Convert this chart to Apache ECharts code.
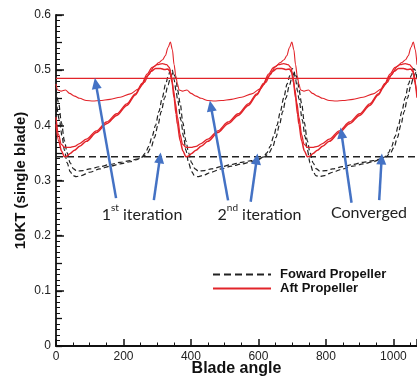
<!DOCTYPE html>
<html>
<head>
<meta charset="utf-8">
<script src="https://cdn.jsdelivr.net/npm/echarts@6/dist/echarts.min.js"></script>
<style>
html,body{margin:0;padding:0;background:#fff;}
#chart{width:417px;height:384px;}
</style>
</head>
<body>
<div id="chart"></div>
<script>
// ---- data ----
const xTicks = [0, 200, 400, 600, 800, 1000];
const yTicks = [0, 0.1, 0.2, 0.3, 0.4, 0.5, 0.6];
const seriesNames = ['Foward Propeller', 'Aft Propeller'];

// 1st iteration: constant thrust
const fwdFirstIter = [[0, 0.343], [1070, 0.343]];
const aftFirstIter = [[0, 0.485], [1070, 0.485]];

// 2nd iteration, aft propeller
const aftSecondIter = [[0,0.475],[5,0.464],[15,0.462],[28,0.464],[40,0.458],[55,0.453],[70,0.449],[90,0.445],[110,0.444],[130,0.445],[160,0.447],[190,0.451],[220,0.457],[245,0.466],[262,0.478],[275,0.492],[290,0.506],[305,0.514],[316,0.519],[324,0.526],[332,0.541],[339,0.551],[345,0.537],[350,0.51],[355,0.49],
[360,0.475],[365,0.464],[375,0.462],[388,0.464],[400,0.458],[415,0.453],[430,0.449],[450,0.445],[470,0.444],[490,0.445],[520,0.447],[550,0.451],[580,0.457],[605,0.466],[622,0.478],[635,0.492],[650,0.506],[665,0.514],[676,0.519],[684,0.526],[692,0.541],[699,0.551],[705,0.537],[710,0.51],[715,0.49],
[720,0.475],[725,0.464],[735,0.462],[748,0.464],[760,0.458],[775,0.453],[790,0.449],[810,0.445],[830,0.444],[850,0.445],[880,0.447],[910,0.451],[940,0.457],[965,0.466],[982,0.478],[995,0.492],[1010,0.506],[1025,0.514],[1036,0.519],[1044,0.526],[1052,0.541],[1059,0.551],[1065,0.537],[1070,0.51]];

// converged, aft propeller (two last iterations)
const aftConvA = [[0,0.415],[8,0.383],[15,0.366],[25,0.36],[40,0.36],[55,0.362],[70,0.367],[90,0.375],[120,0.39],[150,0.406],[180,0.421],[210,0.439],[235,0.457],[255,0.476],[270,0.493],[285,0.505],[300,0.51],[315,0.512],[328,0.51],[336,0.505],[342,0.49],[348,0.465],[354,0.44],
[360,0.415],[368,0.383],[375,0.366],[385,0.36],[400,0.36],[415,0.362],[430,0.367],[450,0.375],[480,0.39],[510,0.406],[540,0.421],[570,0.439],[595,0.457],[615,0.476],[630,0.493],[645,0.505],[660,0.51],[675,0.512],[688,0.51],[696,0.505],[702,0.49],[708,0.465],[714,0.44],
[720,0.415],[728,0.383],[735,0.366],[745,0.36],[760,0.36],[775,0.362],[790,0.367],[810,0.375],[840,0.39],[870,0.406],[900,0.421],[930,0.439],[955,0.457],[975,0.476],[990,0.493],[1005,0.505],[1020,0.51],[1035,0.512],[1048,0.51],[1056,0.505],[1062,0.49],[1068,0.465],[1070,0.457]];

const aftConvB = [[0,0.402],[8,0.372],[16,0.354],[25,0.343],[32,0.344],[42,0.349],[55,0.355],[70,0.362],[90,0.371],[120,0.387],[150,0.403],[180,0.418],[210,0.436],[235,0.455],[255,0.474],[270,0.489],[282,0.498],[295,0.503],[310,0.503],[322,0.501],[332,0.502],[338,0.497],[344,0.478],[350,0.45],[356,0.42],
[360,0.402],[368,0.372],[376,0.354],[385,0.343],[392,0.344],[402,0.349],[415,0.355],[430,0.362],[450,0.371],[480,0.387],[510,0.403],[540,0.418],[570,0.436],[595,0.455],[615,0.474],[630,0.489],[642,0.498],[655,0.503],[670,0.503],[682,0.501],[692,0.502],[698,0.497],[704,0.478],[710,0.45],[716,0.42],
[720,0.402],[728,0.372],[736,0.354],[745,0.343],[752,0.344],[762,0.349],[775,0.355],[790,0.362],[810,0.371],[840,0.387],[870,0.403],[900,0.418],[930,0.436],[955,0.455],[975,0.474],[990,0.489],[1002,0.498],[1015,0.503],[1030,0.503],[1042,0.501],[1052,0.502],[1058,0.497],[1064,0.478],[1070,0.45]];

// forward propeller, 2nd iteration / converged
const fwdIterA = [[0,0.448],[10,0.41],[18,0.38],[25,0.355],[33,0.332],[42,0.316],[50,0.309],[60,0.307],[75,0.309],[100,0.315],[130,0.321],[160,0.326],[190,0.33],[220,0.334],[240,0.338],[255,0.343],[265,0.35],[275,0.362],[285,0.38],[295,0.4],[305,0.425],[315,0.45],[325,0.475],[333,0.49],[340,0.503],[345,0.5],[350,0.483],[356,0.462],
[360,0.448],[370,0.41],[378,0.38],[385,0.355],[393,0.332],[402,0.316],[410,0.309],[420,0.307],[435,0.309],[460,0.315],[490,0.321],[520,0.326],[550,0.33],[580,0.334],[600,0.338],[615,0.343],[625,0.35],[635,0.362],[645,0.38],[655,0.4],[665,0.425],[675,0.45],[685,0.475],[693,0.49],[700,0.503],[705,0.5],[710,0.483],[716,0.462],
[720,0.448],[730,0.41],[738,0.38],[745,0.355],[753,0.332],[762,0.316],[770,0.309],[780,0.307],[795,0.309],[820,0.315],[850,0.321],[880,0.326],[910,0.33],[940,0.334],[960,0.338],[975,0.343],[985,0.35],[995,0.362],[1005,0.38],[1015,0.4],[1025,0.425],[1035,0.45],[1045,0.475],[1053,0.49],[1060,0.503],[1065,0.5],[1070,0.483]];

const fwdIterB = [[0,0.465],[8,0.44],[16,0.405],[25,0.372],[33,0.35],[42,0.332],[52,0.321],[62,0.317],[80,0.318],[100,0.321],[130,0.325],[160,0.329],[190,0.333],[220,0.336],[240,0.339],[258,0.343],[270,0.349],[282,0.36],[292,0.378],[302,0.4],[312,0.425],[322,0.45],[332,0.473],[340,0.488],[347,0.496],[352,0.49],[357,0.478],
[360,0.465],[368,0.44],[376,0.405],[385,0.372],[393,0.35],[402,0.332],[412,0.321],[422,0.317],[440,0.318],[460,0.321],[490,0.325],[520,0.329],[550,0.333],[580,0.336],[600,0.339],[618,0.343],[630,0.349],[642,0.36],[652,0.378],[662,0.4],[672,0.425],[682,0.45],[692,0.473],[700,0.488],[707,0.496],[712,0.49],[717,0.478],
[720,0.465],[728,0.44],[736,0.405],[745,0.372],[753,0.35],[762,0.332],[772,0.321],[782,0.317],[800,0.318],[820,0.321],[850,0.325],[880,0.329],[910,0.333],[940,0.336],[960,0.339],[978,0.343],[990,0.349],[1002,0.36],[1012,0.378],[1022,0.4],[1032,0.425],[1042,0.45],[1052,0.473],[1060,0.488],[1067,0.496],[1070,0.494]];

// annotation arrows: [tail, head] in data coordinates
const arrowTails = [[178,0.268],[290,0.2645],[510,0.264],[577,0.2614],[876,0.2596],[958,0.2645]];
const arrowHeads = [[118,0.476],[308,0.341],[459,0.435],[595,0.339],[846,0.386],[965,0.339]];
const annotationLabels = ['1st iteration', '2nd iteration', 'Converged'];

// ---- chart ----
const chart = echarts.init(document.getElementById('chart'), null, {renderer: 'canvas'});
const RED = '#e2242a';
const BLK = '#222';
const BLUE = '#4472c4';
const FONT = '"Liberation Sans", Arial, sans-serif';

function redLine(data, width) {
  return {name: seriesNames[1], type: 'line', data: data, symbol: 'none', showSymbol: false,
    smooth: 0.3, smoothMonotone: 'x',
    lineStyle: {color: RED, width: width}, itemStyle: {color: RED}, silent: true, z: 3};
}
function blkLine(data, dash) {
  return {name: seriesNames[0], type: 'line', data: data, symbol: 'none', showSymbol: false,
    smooth: 0.3, smoothMonotone: 'x',
    lineStyle: {color: BLK, width: 1.2, type: dash}, itemStyle: {color: BLK}, silent: true, z: 2};
}

const arrowLines = arrowTails.map((t, i) => [{coord: t}, {coord: arrowHeads[i]}]);

const option = {
  animation: false,
  backgroundColor: '#fff',
  grid: {left: 56, right: 0, top: 15, bottom: 38, containLabel: false, outerBoundsMode: 'none'},
  legend: {
    data: [seriesNames[0], seriesNames[1]],
    orient: 'vertical', left: 207, top: 263,
    itemWidth: 58, itemHeight: 10, itemGap: 1,
    itemStyle: {color: 'rgba(0,0,0,0)', borderColor: 'rgba(0,0,0,0)', borderWidth: 0, opacity: 0},
    textStyle: {fontFamily: FONT, fontWeight: 'bold', fontSize: 13, color: '#111', padding: [0,0,0,4]},
    selectedMode: false
  },
  xAxis: {
    type: 'value', min: 0, max: 1070, interval: 200,
    name: 'Blade angle', nameLocation: 'middle', nameGap: 15, nameMoveOverlap: false,
    nameTextStyle: {fontFamily: FONT, fontWeight: 'bold', fontSize: 16, color: '#111'},
    axisLine: {show: true, lineStyle: {color: '#111', width: 1.8}},
    axisTick: {show: true, inside: true, length: 7, lineStyle: {color: '#111', width: 1.5}},
    minorTick: {show: true, splitNumber: 4, length: 3.5, lineStyle: {color: '#111', width: 1}},
    axisLabel: {fontFamily: FONT, fontSize: 12, color: '#222', margin: 5, showMaxLabel: false,
      formatter: v => (xTicks.indexOf(v) >= 0 ? String(v) : '')},
    splitLine: {show: false}, minorSplitLine: {show: false}
  },
  yAxis: [{
    type: 'value', min: 0, max: 0.6, interval: 0.1, position: 'left',
    name: '10KT (single blade)', nameLocation: 'middle', nameGap: 28, nameRotate: 90, nameMoveOverlap: false,
    nameTextStyle: {fontFamily: FONT, fontWeight: 'bold', fontSize: 15, color: '#111'},
    axisLine: {show: true, lineStyle: {color: '#111', width: 1.8}},
    axisTick: {show: true, inside: true, length: 8, lineStyle: {color: '#111', width: 1.5}},
    axisLabel: {fontFamily: FONT, fontSize: 12, color: '#222', margin: 5,
      formatter: v => { const t = yTicks.find(k => Math.abs(k - v) < 1e-9); return t === undefined ? '' : String(t); }},
    splitLine: {show: false}
  }, {
    type: 'value', min: 0, max: 0.6, interval: 0.05, position: 'left', offset: 0,
    axisLine: {show: false},
    axisTick: {show: true, inside: true, length: 6, lineStyle: {color: '#111', width: 1.3}},
    minorTick: {show: true, splitNumber: 5, length: 4, lineStyle: {color: '#111', width: 1}},
    axisLabel: {show: false},
    splitLine: {show: false}, minorSplitLine: {show: false}
  }],
  series: [
    Object.assign(blkLine(fwdFirstIter, [7, 4]), {smooth: false, lineStyle: {color: BLK, width: 1.4, type: [7, 4]}}),
    blkLine(fwdIterA, [5, 3]),
    blkLine(fwdIterB, [5, 3]),
    Object.assign(redLine(aftFirstIter, 1.3), {
      smooth: false,
      markLine: {
        silent: true, animation: false,
        symbol: ['none', 'triangle'], symbolSize: [10, 11],
        label: {show: false},
        lineStyle: {color: BLUE, width: 2.5, type: 'solid'},
        emphasis: {disabled: true},
        data: arrowLines
      }
    }),
    redLine(aftSecondIter, 1.1),
    redLine(aftConvA, 1.3),
    redLine(aftConvB, 1.5)
  ],
  graphic: [
    {type: 'text', x: 142, y: 213, z: 10, silent: true,
      style: {text: '{n|1}{s|st}{n| iteration}', align: 'center', verticalAlign: 'middle',
        rich: {n: {fontFamily: 'Lato', fontSize: 16, fill: '#222', lineHeight: 20, verticalAlign: 'bottom'},
               s: {fontFamily: 'Lato', fontSize: 10, fill: '#222', lineHeight: 20, verticalAlign: 'top'}}}},
    {type: 'text', x: 259.5, y: 213, z: 10, silent: true,
      style: {text: '{n|2}{s|nd}{n| iteration}', align: 'center', verticalAlign: 'middle',
        rich: {n: {fontFamily: 'Lato', fontSize: 16, fill: '#222', lineHeight: 20, verticalAlign: 'bottom'},
               s: {fontFamily: 'Lato', fontSize: 10, fill: '#222', lineHeight: 20, verticalAlign: 'top'}}}},
    {type: 'text', x: 369, y: 213, z: 10, silent: true,
      style: {text: annotationLabels[2], align: 'center', verticalAlign: 'middle',
        fontFamily: 'Lato', fontSize: 16, fill: '#222'}}
  ]
};
chart.setOption(option);
</script>
</body>
</html>
